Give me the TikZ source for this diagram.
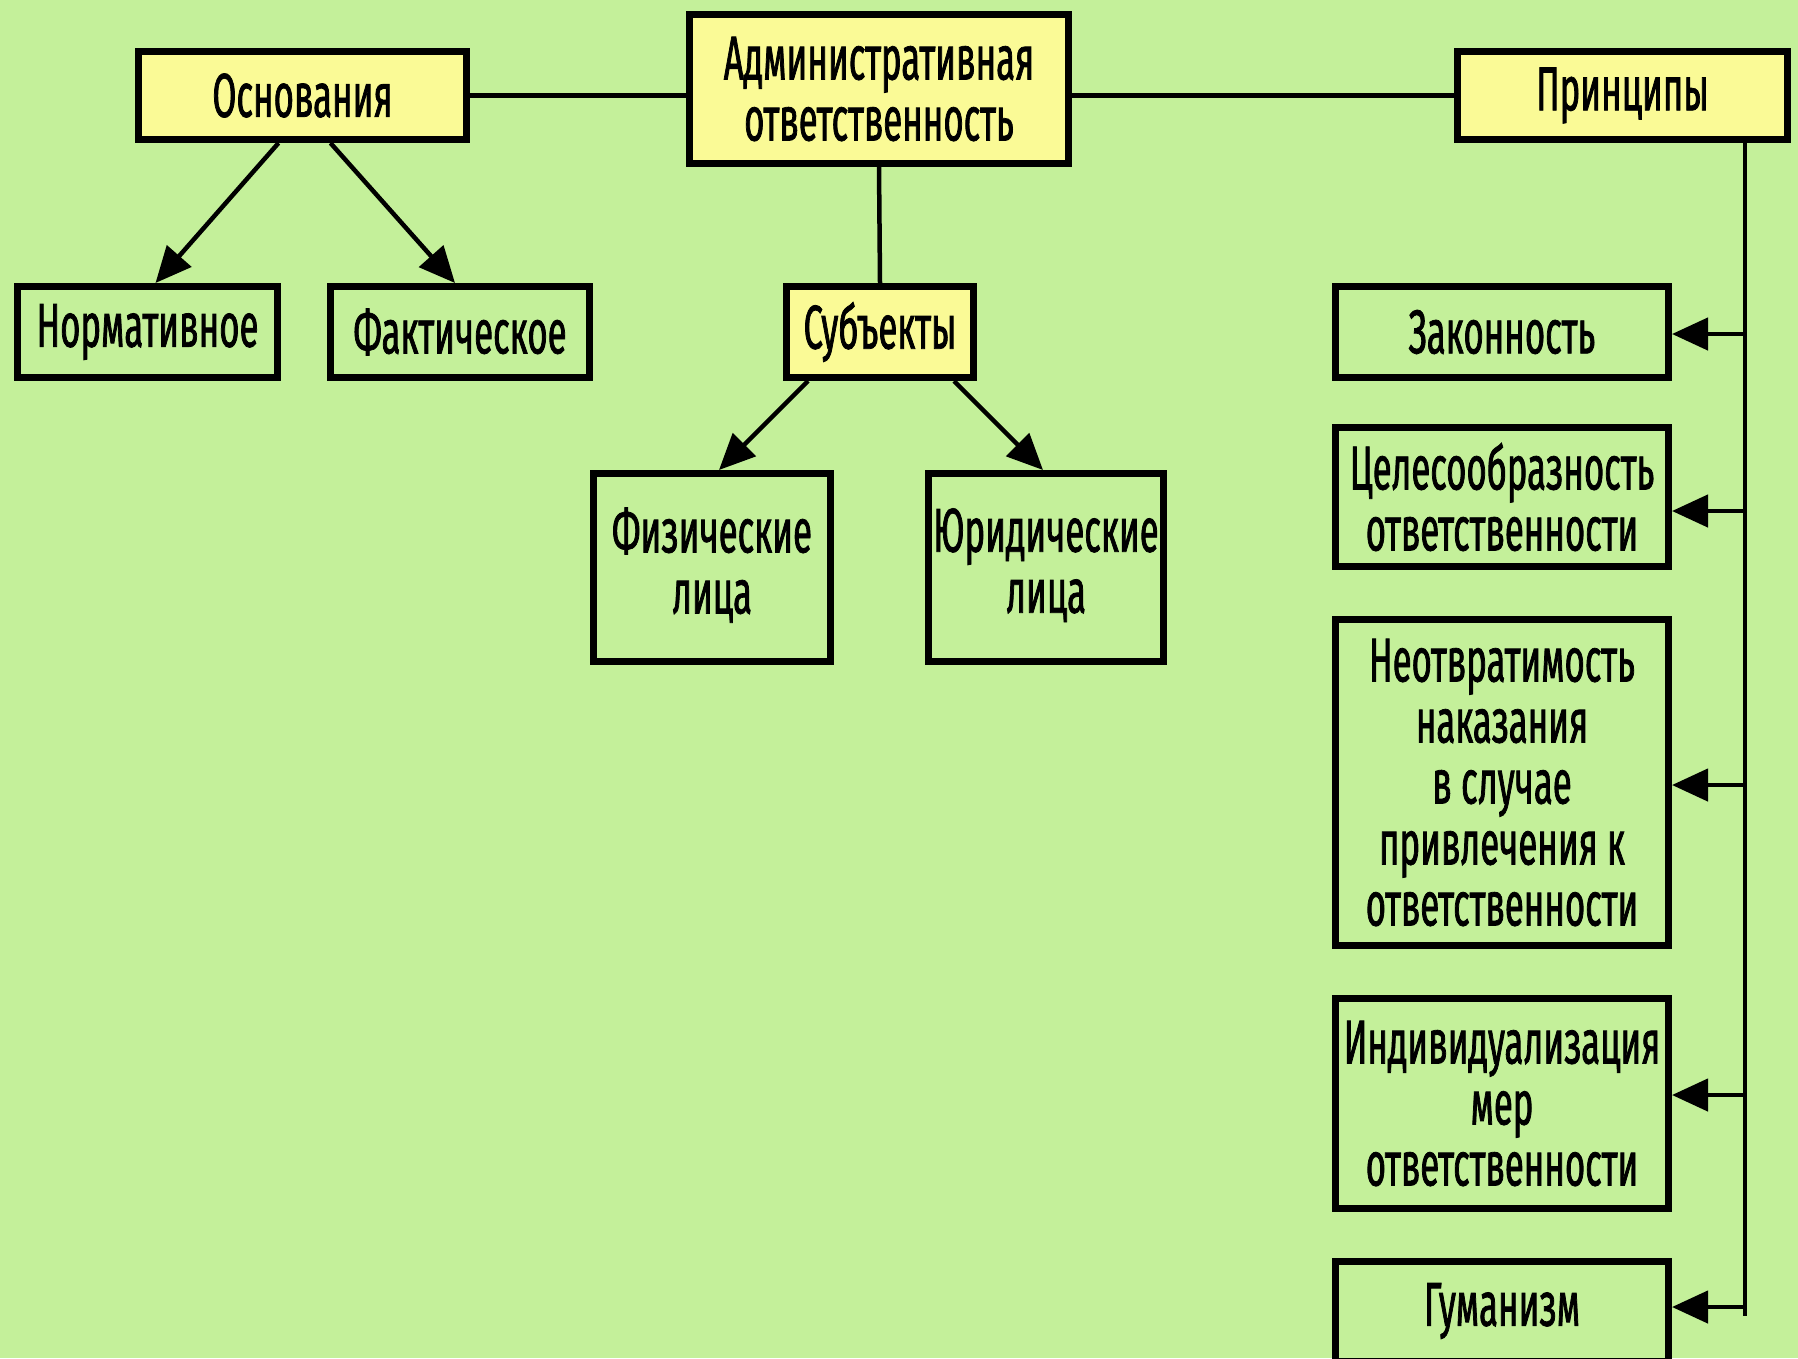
\documentclass[tikz,border=0pt]{standalone}
\usepackage{fontspec}
\setmainfont{Fira Sans}[FakeStretch=0.56,FakeBold=1.2]
\usetikzlibrary{arrows.meta}
\definecolor{bg}{RGB}{196,240,154}
\definecolor{hl}{RGB}{250,250,150}
\begin{document}
\begin{tikzpicture}[x=1pt,y=-1pt,
  box/.style={draw=black, line width=7pt, fill=bg, inner sep=0pt, align=center,
    font=\fontsize{62}{61}\selectfont},
  key/.style={box, fill=hl},
  conn/.style={line width=4.5pt},
  arr/.style={conn, -{Triangle[length=36pt,width=32pt]}}]
\fill[bg] (0,0) rectangle (1798,1358);
\useasboundingbox (0,0) rectangle (1798,1358);
% top row
\node[key, minimum width=379pt, minimum height=149pt] (adm) at (879,89) {Административная\\ответственность};
\node[key, minimum width=328pt, minimum height=88pt] (osn) at (302.5,95.5) {Основания};
\node[key, minimum width=330pt, minimum height=88pt] (prin) at (1622.5,95.5) {Принципы};
% second row
\node[box, minimum width=260pt, minimum height=91pt] (norm) at (147.5,332) {Нормативное};
\node[box, minimum width=259pt, minimum height=91pt] (fakt) at (460,332) {Фактическое};
\node[key, minimum width=187pt, minimum height=91pt] (subj) at (880,332) {Субъекты};
\node[box, minimum width=237pt, minimum height=188pt, text depth=14pt] (fiz) at (712,567.5) {Физические\\лица};
\node[box, minimum width=235pt, minimum height=188pt, text depth=14pt] (yur) at (1046,567.5) {Юридические\\лица};
% principles
\node[box, minimum width=333pt, minimum height=91pt] (zak) at (1502,332) {Законность};
\node[box, minimum width=333pt, minimum height=139pt] (cel) at (1502,497) {Целесообразность\\ответственности};
\node[box, minimum width=333pt, minimum height=326pt] (neo) at (1502,782.5) {Неотвратимость\\наказания\\в случае\\привлечения к\\ответственности};
\node[box, minimum width=333pt, minimum height=210pt] (ind) at (1502,1103.5) {Индивидуализация\\мер\\ответственности};
\node[box, minimum width=333pt, minimum height=100pt] (gum) at (1502,1311) {Гуманизм};
% connectors
\coordinate (bus) at (1745,1316);
\draw[conn] (osn.east) -- (osn.east -| adm.west);
\draw[conn] (adm.east |- prin.west) -- (prin.west);
\draw[conn] (adm.south) -- (subj.north);
\draw[arr] ([xshift=-24pt]osn.south) -- ([xshift=8pt]norm.north);
\draw[arr] ([xshift=28pt]osn.south) -- ([xshift=-5pt]fakt.north);
\draw[arr] ([xshift=-72pt]subj.south) -- ([xshift=7pt]fiz.north);
\draw[arr] ([xshift=74pt]subj.south) -- ([xshift=-3pt]yur.north);
\draw[conn] (prin.south -| bus) -- (bus);
\draw[arr] ([yshift=-2pt]zak.east -| bus) -- ([yshift=-2pt]zak.east);
\draw[arr] ([yshift=-14pt]cel.east -| bus) -- ([yshift=-14pt]cel.east);
\draw[arr] ([yshift=-2.5pt]neo.east -| bus) -- ([yshift=-2.5pt]neo.east);
\draw[arr] ([yshift=8.5pt]ind.east -| bus) -- ([yshift=8.5pt]ind.east);
\draw[arr] ([yshift=4pt]gum.east -| bus) -- ([yshift=4pt]gum.east);
\end{tikzpicture}
\end{document}
